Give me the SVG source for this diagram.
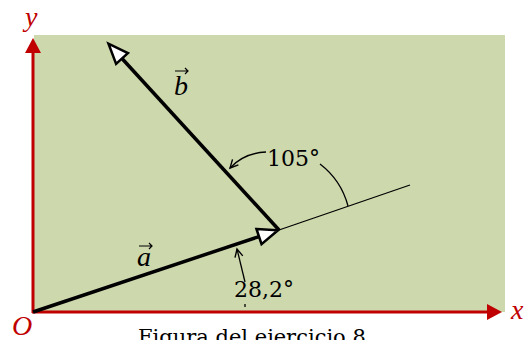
<svg xmlns="http://www.w3.org/2000/svg" width="529" height="340" viewBox="0 0 529 340">
<style>
.axis{stroke:#c00000;stroke-width:3;fill:none}
.vec{stroke:#000;stroke-width:3.5;fill:none}
.thin{stroke:#000;stroke-width:1.3;fill:none}
.lbl{font-family:"DejaVu Serif","Liberation Serif",serif;font-size:22px;fill:#000}
.cap{font-family:"DejaVu Serif","Liberation Serif",serif;font-size:21px;fill:#000}
.axl{font-family:"Liberation Serif","DejaVu Serif",serif;font-size:28px;font-style:italic;fill:#c00000}
.vl{font-family:"Liberation Serif","DejaVu Serif",serif;font-size:28px;font-style:italic;fill:#000}
</style>
<defs>
<marker id="vhead" markerUnits="userSpaceOnUse" viewBox="0 0 22 18" refX="1" refY="9" markerWidth="22" markerHeight="18" orient="auto" overflow="visible">
<path d="M1,1 L21,9 L1,17 z" fill="#fff" stroke="#000" stroke-width="2.5" stroke-linejoin="miter"/>
</marker>
<marker id="ahead" markerUnits="userSpaceOnUse" viewBox="0 0 15 16" refX="1" refY="8" markerWidth="15" markerHeight="16" orient="auto" overflow="visible">
<path d="M0,0 L15,8 L0,16 z" fill="#c00000"/>
</marker>
<marker id="small" markerUnits="userSpaceOnUse" viewBox="0 0 10 10" refX="9" refY="5" markerWidth="10" markerHeight="10" orient="auto" overflow="visible">
<path d="M1,1 L9,5 L1,9" fill="none" stroke="#000" stroke-width="1.4"/>
</marker>
</defs>
<rect x="34" y="35" width="471" height="277" fill="#cdd8ad"/>
<g id="connectors">
<line class="axis" x1="33" y1="313" x2="33" y2="52" marker-end="url(#ahead)"/>
<line class="axis" x1="32" y1="312" x2="488" y2="312" marker-end="url(#ahead)"/>
<line class="thin" x1="279" y1="230" x2="410" y2="185"/>
<path class="thin" d="M320,164 A78,78 0 0 1 348,206"/>
<line class="vec" x1="33" y1="312" x2="259" y2="236.6" marker-end="url(#vhead)"/>
<line class="vec" x1="279" y1="230" x2="122" y2="58.5" marker-end="url(#vhead)"/>
<path class="thin" d="M266,152 Q244,153 230,168" marker-end="url(#small)"/>
<path class="thin" d="M245,282 L237,249" marker-end="url(#small)"/>
<line class="thin" x1="245" y1="304" x2="245" y2="307"/>
</g>
<g id="axis-labels">
<text class="axl" x="25" y="26">y</text>
<text class="axl" x="511" y="319">x</text>
<text class="axl" x="12" y="335">O</text>
</g>
<g id="vec-a">
<text class="vl" x="137" y="266">a</text>
<path d="M139,246 L152,246 M149,243 L152,246 L149,249" fill="none" stroke="#000" stroke-width="1.2"/>
</g>
<g id="vec-b">
<text class="vl" x="174" y="95">b</text>
<path d="M175,71 L188,71 M185,68 L188,71 L185,74" fill="none" stroke="#000" stroke-width="1.2"/>
</g>
<g id="angle-105"><text class="lbl" x="267" y="166">105°</text></g>
<g id="angle-28"><text class="lbl" x="234" y="297">28,2°</text></g>
<g id="caption"><text class="cap" x="138" y="344">Figura del ejercicio 8</text></g>
</svg>
